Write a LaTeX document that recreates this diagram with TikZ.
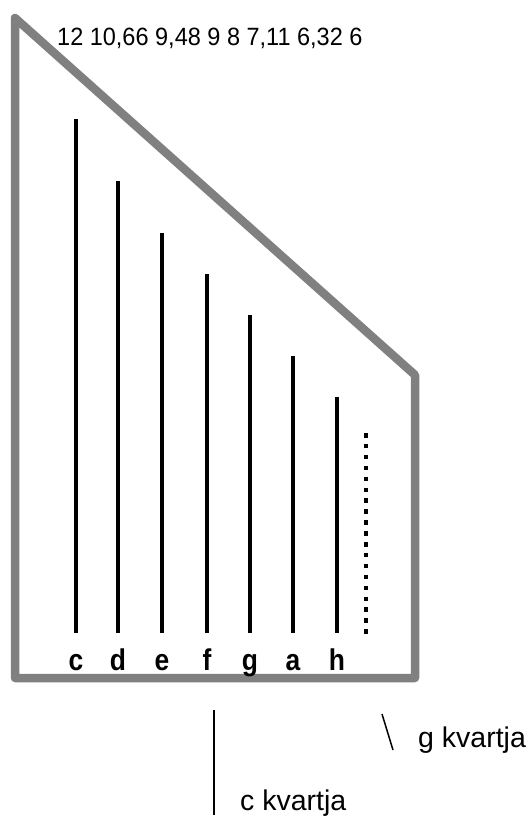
\documentclass[tikz,border=0pt]{standalone}
\usepackage{fontspec}
\setmainfont{Liberation Sans}
\usetikzlibrary{positioning}
\definecolor{frm}{HTML}{808080}

\begin{document}
\begin{tikzpicture}[
    x=1pt,y=-1pt,
    frame/.style={draw=frm,line width=8.5pt,line join=round},
    str/.style={line width=4.5pt},
    dotstr/.style={line width=4.5pt,dash pattern=on 4.5pt off 6.4pt},
    lbl/.style={font=\fontsize{30}{32}\selectfont\bfseries,inner sep=0pt,anchor=base,xscale=0.88},
    nums/.style={font=\fontsize{25}{28}\selectfont,inner sep=0pt,anchor=base west,xscale=0.94},
    note/.style={font=\fontsize{28.5}{30}\selectfont,inner sep=0pt,anchor=base west},
    tick/.style={line width=1.5pt}
]
\useasboundingbox (0,0) rectangle (529,819);

% frame of the instrument
\draw[frame] (15,18) -- (415,375) -- (415,678) -- (15,678) -- cycle;

\node[nums] (lengths) at (57,45) {12 10,66 9,48 9 8 7,11 6,32 6};

% strings
\foreach \n/\x/\t in {c/76/119,d/118/181,e/162/233,f/207/274,g/250/315,a/293/356,h/337/397}{
  \coordinate (\n top) at (\x,\t);
  \coordinate (\n bot) at (\x,633);
  \draw[str] (\n top) -- (\n bot);
  \node[lbl] (\n lab) at (\x,670) {\n};
}
\coordinate (x top) at (366,433);
\coordinate (x bot) at (366,634);
\draw[dotstr] (x top) -- (x bot);

% fourths
\coordinate (cq top) at (214,710);
\coordinate (cq bot) at (214,815);
\draw[tick] (cq top) -- (cq bot);
\node[note] (cq) at (240,810) {c kvartja};

\coordinate (gq top) at (382,714);
\coordinate (gq bot) at (393,750);
\draw[tick] (gq top) -- (gq bot);
\node[note] (gq) at (418,747) {g kvartja};
\end{tikzpicture}
\end{document}
